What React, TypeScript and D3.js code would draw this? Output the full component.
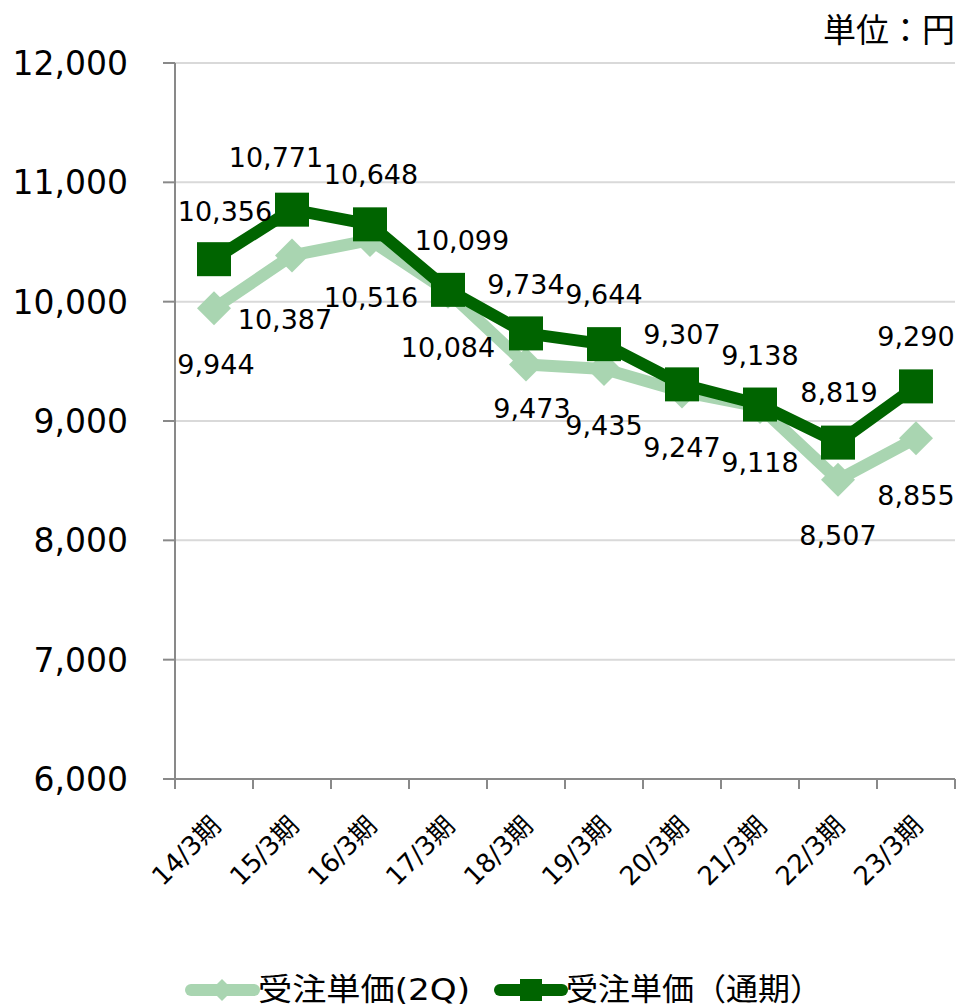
import React from "react";
import * as d3 from "d3";

const categories = ["14/3期", "15/3期", "16/3期", "17/3期", "18/3期", "19/3期", "20/3期", "21/3期", "22/3期", "23/3期"];
const series2Q = [9944, 10387, 10516, 10084, 9473, 9435, 9247, 9118, 8507, 8855];
const seriesFull = [10356, 10771, 10648, 10099, 9734, 9644, 9307, 9138, 8819, 9290];
const yTicks = [6000, 7000, 8000, 9000, 10000, 11000, 12000];
const legendNames = ["受注単価(2Q)", "受注単価（通期）"];
const unitLabel = "単位：円";

// label nudges (relative px) to mimic hand-placed labels
const fullNudgeX = [11, -16, 1, 14, 0, 0, 0, 0, 1, 0];
const fullNudgeY = [2, -3, 0, 0, 1, 0, 0, 0, -1, 0];
const q2NudgeX = [2, -7, 1, 0, 6, 0, 0, 0, 0, 0];
const q2NudgeY = [1, 9, 2, 0, -12, 1, 0, 0, 0, 2];

const W = 960;
const H = 1008;
const LEFT = 175;
const RIGHT = 955;
const TOP = 63;
const BOTTOM = 779;

const LIGHT = "#a9d5b1";
const DARK = "#006400";
const FONT = "'DejaVu Sans', 'Noto Sans CJK JP', sans-serif";

export default function App() {
  const x = d3.scaleBand<string>().domain(categories).range([LEFT, RIGHT]);
  const y = d3.scaleLinear().domain([6000, 12000]).range([BOTTOM, TOP]);
  const cx = (c: string) => (x(c) as number) + x.bandwidth() / 2;
  const fmt = d3.format(",");

  const line = d3
    .line<number>()
    .x((_, i) => cx(categories[i]))
    .y((d) => y(d));

  const boundaries = categories.map((c) => x(c) as number).concat([RIGHT]);

  const diamond = (px: number, py: number, r: number) =>
    `M${px},${py - r}L${px + r},${py}L${px},${py + r}L${px - r},${py}Z`;

  return (
    <svg width={W} height={H} style={{ position: "absolute", left: 0, top: 0, background: "#fff" }} fontFamily={FONT}>
      <rect x={0} y={0} width={W} height={H} fill="#fff" />
      {/* gridlines */}
      {yTicks.map((t) => (
        <line key={"g" + t} x1={LEFT} x2={RIGHT} y1={y(t)} y2={y(t)} stroke="#d9d9d9" strokeWidth={2} />
      ))}
      {/* y axis */}
      <line x1={LEFT} x2={LEFT} y1={TOP} y2={BOTTOM + 1} stroke="#898989" strokeWidth={2} />
      {yTicks.map((t) => (
        <g key={"yt" + t}>
          <line x1={LEFT - 12} x2={LEFT} y1={y(t)} y2={y(t)} stroke="#898989" strokeWidth={2} />
          <text x={128} y={y(t)} dy="0.36em" textAnchor="end" fontSize={33} fill="#000">
            {fmt(t)}
          </text>
        </g>
      ))}
      {/* x axis */}
      <line x1={LEFT - 12} x2={RIGHT} y1={BOTTOM} y2={BOTTOM} stroke="#898989" strokeWidth={2} />
      {boundaries.map((b, i) => (
        <line key={"xt" + i} x1={b} x2={b} y1={BOTTOM} y2={BOTTOM + 10} stroke="#898989" strokeWidth={2} />
      ))}
      {categories.map((c) => (
        <text
          key={"xl" + c}
          transform={`translate(${cx(c) + 2},${BOTTOM + 42}) rotate(-45)`}
          textAnchor="end"
          dominantBaseline="central"
          fontSize={26}
          fill="#000"
        >
          {c}
        </text>
      ))}
      {/* unit */}
      <text x={RIGHT} y={42} textAnchor="end" fontSize={33} fill="#000">
        {unitLabel}
      </text>

      {/* 2Q series */}
      <path d={line(series2Q) || ""} fill="none" stroke={LIGHT} strokeWidth={12} strokeLinejoin="round" />
      {series2Q.map((v, i) => (
        <path key={"d" + i} d={diamond(cx(categories[i]), y(v), 17)} fill={LIGHT} />
      ))}
      {/* full-year series */}
      <path d={line(seriesFull) || ""} fill="none" stroke={DARK} strokeWidth={12} strokeLinejoin="round" />
      {seriesFull.map((v, i) => (
        <rect key={"s" + i} x={cx(categories[i]) - 17} y={y(v) - 17} width={34} height={34} fill={DARK} />
      ))}

      {/* labels */}
      {seriesFull.map((v, i) => (
        <text
          key={"lf" + i}
          x={cx(categories[i]) + fullNudgeX[i]}
          y={y(v) - 40 + fullNudgeY[i]}
          textAnchor="middle"
          fontSize={27}
          fill="#000"
        >
          {fmt(v)}
        </text>
      ))}
      {series2Q.map((v, i) => (
        <text
          key={"lq" + i}
          x={cx(categories[i]) + q2NudgeX[i]}
          y={y(v) + 65 + q2NudgeY[i]}
          textAnchor="middle"
          fontSize={27}
          fill="#000"
        >
          {fmt(v)}
        </text>
      ))}

      {/* legend */}
      <g>
        <line x1={191} x2={254} y1={990} y2={990} stroke={LIGHT} strokeWidth={12} strokeLinecap="round" />
        <path d={diamond(222, 990, 11)} fill={LIGHT} />
        <text x={258} y={1000} fontSize={31} fill="#000" textLength={212} lengthAdjust="spacingAndGlyphs">
          {legendNames[0]}
        </text>
        <line x1={500} x2={562} y1={990} y2={990} stroke={DARK} strokeWidth={12} strokeLinecap="round" />
        <rect x={520} y={979} width={22} height={22} fill={DARK} />
        <text x={566} y={1000} fontSize={31} fill="#000" textLength={256} lengthAdjust="spacingAndGlyphs">
          {legendNames[1]}
        </text>
      </g>
    </svg>
  );
}
